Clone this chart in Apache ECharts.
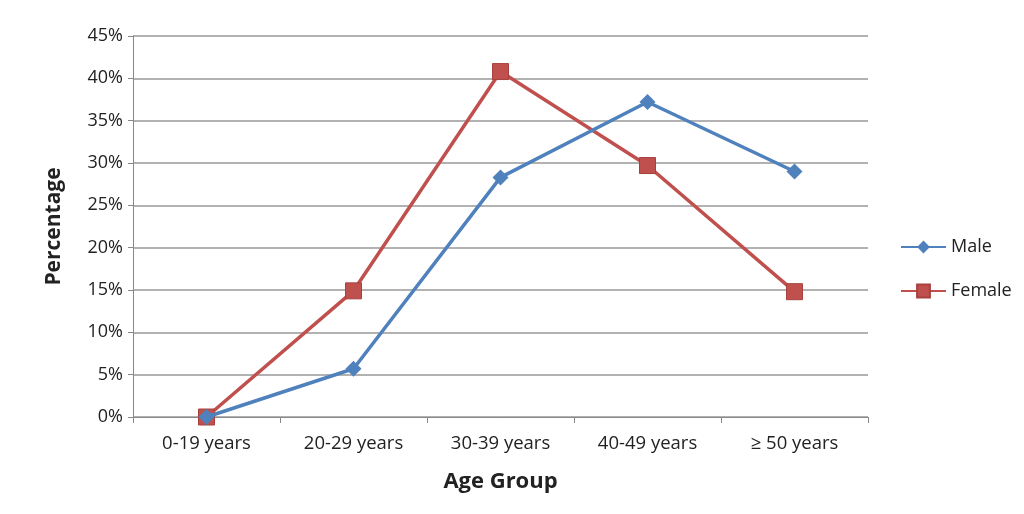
<!DOCTYPE html>
<html><head><meta charset="utf-8">
<script src="https://cdn.jsdelivr.net/npm/echarts@6/dist/echarts.min.js"></script>
<style>html,body{margin:0;padding:0;background:#fff}#c{width:1024px;height:514px}</style>
</head><body><div id="c"></div>
<script>
const categories = ['0-19 years','20-29 years','30-39 years','40-49 years','≥ 50 years'];
const maleValues = [0, 5.7, 28.3, 37.2, 29.0];
const femaleValues = [0, 14.9, 40.8, 29.7, 14.8];
const yTicks = [0,5,10,15,20,25,30,35,40,45];
const FONT = '"Open Sans", Lato, sans-serif';
const chart = echarts.init(document.getElementById('c'));
chart.setOption({
  backgroundColor: '#fff',
  animation: false,
  grid: {left: 133, right: 156, top: 36, bottom: 97},
  legend: {
    orient: 'vertical', left: 895, top: 233, itemGap: 26,
    itemWidth: 45, itemHeight: 16,
    textStyle: {fontFamily: FONT, fontSize: 18, color: '#222'},
    data: ['Male','Female']
  },
  xAxis: {
    type: 'category', data: categories, boundaryGap: true,
    name: 'Age Group', nameLocation: 'middle', nameGap: 54,
    nameTextStyle: {fontFamily: FONT, fontSize: 22, fontWeight: 'bold', color: '#222'},
    axisLine: {lineStyle: {color: '#888', width: 1}},
    axisTick: {show: true, length: 6, lineStyle: {color: '#888'}},
    axisLabel: {fontFamily: FONT, fontSize: 18.5, color: '#222', margin: 17}
  },
  yAxis: {
    type: 'value', min: 0, max: 45, interval: 5,
    name: 'Percentage', nameLocation: 'middle', nameGap: 68, nameRotate: 90,
    nameTextStyle: {fontFamily: FONT, fontSize: 21, fontWeight: 'bold', color: '#222'},
    axisLine: {show: true, lineStyle: {color: '#888'}},
    axisTick: {show: true, length: 5, lineStyle: {color: '#888'}},
    axisLabel: {fontFamily: FONT, fontSize: 18, color: '#222', margin: 10,
      formatter: v => yTicks.includes(v) ? v + '%' : ''},
    splitLine: {lineStyle: {color: '#999', width: 1.5}}
  },
  series: [
    {name: 'Male', type: 'line', data: maleValues, symbol: 'diamond', symbolSize: 16,
     itemStyle: {color: '#4F81BD'}, lineStyle: {color: '#4F81BD', width: 3.5}, z: 3},
    {name: 'Female', type: 'line', data: femaleValues, symbol: 'rect', symbolSize: 16,
     itemStyle: {color: '#C0504D', borderColor: '#a8403d', borderWidth: 1}, lineStyle: {color: '#C0504D', width: 3.5}, z: 2}
  ]
});
</script></body></html>
